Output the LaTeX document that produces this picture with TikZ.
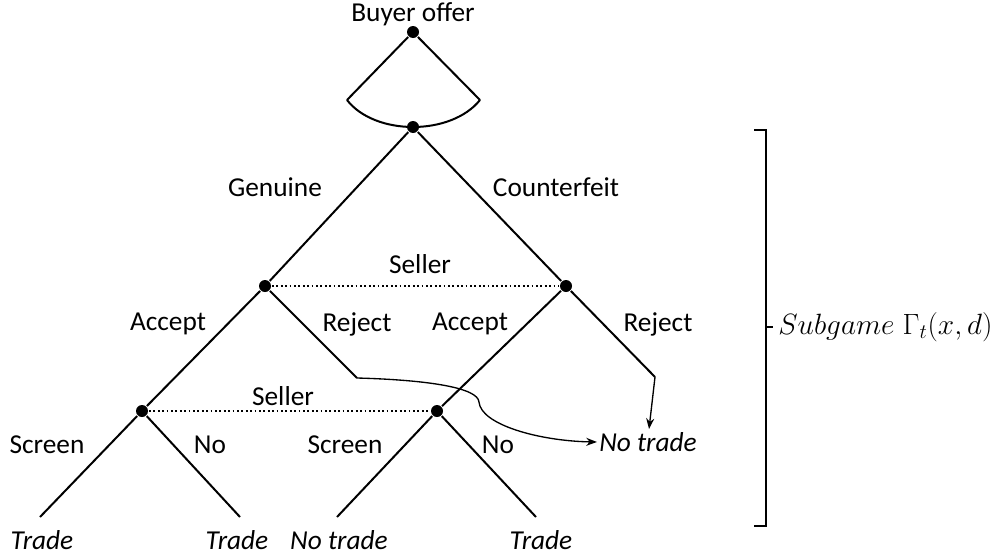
\RequirePackage{fix-cm}
\documentclass[tikz,border=0pt]{standalone}
\usepackage{fontspec}
\setmainfont{Carlito}
\usetikzlibrary{arrows.meta}

\begin{document}
\begin{tikzpicture}[x=0.75pt, y=-0.75pt, line width=1.5pt,
    every node/.style={font=\fontsize{20.5}{24}\selectfont},
    dot/.style={circle, fill=black, inner sep=0pt, minimum size=9pt},
    lbl/.style={inner sep=1pt},
    leaf/.style={inner sep=1pt, font=\fontsize{20.5}{24}\selectfont\itshape},
    info/.style={dotted, line width=1.3pt}]

    \useasboundingbox (0,0) rectangle (1004,557);

    % Decision nodes
    \node[dot] (root) at (413,32) {};
    \node[dot] (nature) at (413,127) {};
    \node[dot] (sellG) at (265,286) {};
    \node[dot] (sellC) at (566,286) {};
    \node[dot] (buyG) at (142,411) {};
    \node[dot] (buyC) at (437,411) {};

    % Branch ends
    \coordinate (fanL) at (347,100);
    \coordinate (fanR) at (480,100);
    \coordinate (rejG) at (357,378);
    \coordinate (rejC) at (655,377);
    \coordinate (endA) at (40,517);
    \coordinate (endB) at (240,517);
    \coordinate (endC) at (337,517);
    \coordinate (endD) at (536,517);

    % Outcomes
    \node[leaf] (outA) at (42,540) {Trade};
    \node[leaf] (outB) at (237,540) {Trade};
    \node[leaf] (outC) at (339,540) {No trade};
    \node[leaf] (outD) at (541,540) {Trade};
    \node[leaf] (notrade) at (648,442) {No trade};

    % Labels
    \node[lbl] (tBuyer) at (413,14) {Buyer offer};
    \node[lbl] (tGen) at (275,187) {Genuine};
    \node[lbl] (tCount) at (556,187) {Counterfeit};
    \node[lbl] (tSell1) at (420,264) {Seller};
    \node[lbl] (tAccG) at (168,324) {Accept};
    \node[lbl] (tRejG) at (357,324) {Reject};
    \node[lbl] (tAccC) at (470,324) {Accept};
    \node[lbl] (tRejC) at (658,324) {Reject};
    \node[lbl] (tSell2) at (283,396) {Seller};
    \node[lbl] (tScrG) at (47,445) {Screen};
    \node[lbl] (tNoG) at (210,445) {No};
    \node[lbl] (tScrC) at (345,445) {Screen};
    \node[lbl] (tNoC) at (498,445) {No};
    \node[lbl, anchor=west, font=\fontsize{22}{26}\selectfont] (tSub) at (776,327)
        {$Subgame\;\Gamma_t(x,d)$};

    % Buyer offer fan
    \draw (fanL) -- (root) -- (fanR);
    \draw (fanL) .. controls (375,136) and (451,136) .. (fanR);

    % Tree
    \draw (nature) -- (sellG);
    \draw (nature) -- (sellC);
    \draw[info] (sellG) -- (sellC);
    \draw (sellG) -- (buyG);
    \draw (sellG) -- (rejG);
    \draw (sellC) -- (buyC);
    \draw (sellC) -- (rejC);
    \draw[info] (buyG) -- (buyC);
    \draw (buyG) -- (endA);
    \draw (buyG) -- (endB);
    \draw (buyC) -- (endC);
    \draw (buyC) -- (endD);

    % Rejections lead to no trade
    \draw[line width=1pt, -{Stealth[length=8pt]}] (rejG) .. controls (430,380) and (478,388) .. (479,402)
        .. controls (481,425) and (540,441) .. (notrade.west);
    \draw[line width=1pt, -{Stealth[length=8pt]}] (rejC) -- (649,429);

    % Subgame brace
    \draw (754,130) -- (766,130) -- (766,526) -- (754,526);
    \draw (766,327) -- (773,327);

\end{tikzpicture}
\end{document}
